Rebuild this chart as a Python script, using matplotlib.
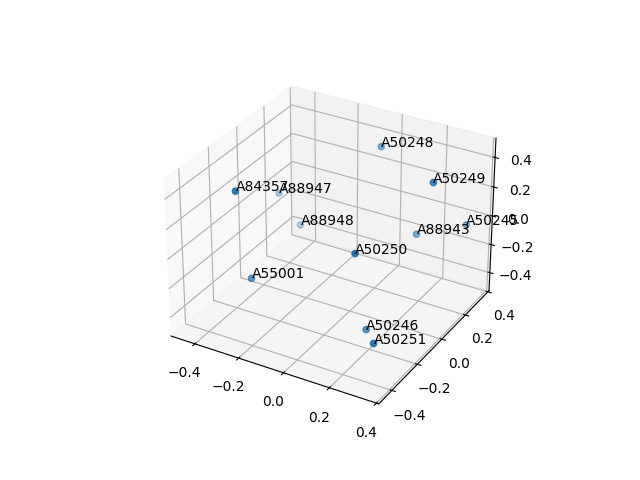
import numpy as np
import matplotlib
matplotlib.use("Agg")
import matplotlib.pyplot as plt

labels = ["A50248", "A50249", "A50245", "A84357", "A88947", "A88948",
          "A88943", "A50250", "A55001", "A50246", "A50251"]
xs = [-0.049, 0.303, 0.318, -0.282, -0.455, -0.380, 0.171, 0.172, -0.274, 0.175, 0.303]
ys = [0.331, 0.101, 0.367, -0.366, 0.215, 0.256, 0.227, -0.263, -0.283, -0.179, -0.351]
zs = [0.345, 0.411, -0.069, 0.452, -0.062, -0.290, -0.091, 0.161, -0.195, -0.424, -0.307]

fig = plt.figure(figsize=(6.4, 4.8), dpi=100)
ax = fig.add_subplot(111, projection='3d')
ax.scatter(xs, ys, zs)
for x, y, z, lab in zip(xs, ys, zs, labels):
    ax.text(x, y, z, lab)

ax.set_xlim(-0.51, 0.41)
ax.set_ylim(-0.50, 0.41)
ax.set_zlim(-0.53, 0.53)

plt.savefig("out.png")
